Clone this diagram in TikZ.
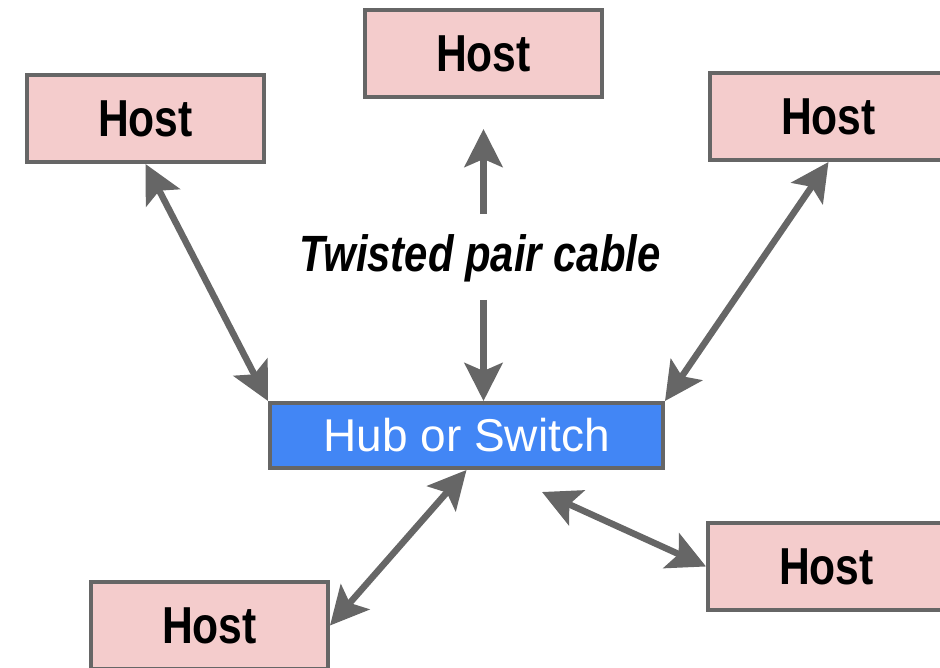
\documentclass[tikz,border=0pt]{standalone}
\usepackage{fontspec}
\setmainfont{Liberation Sans}
\newfontfamily\narrowfont[FakeStretch=0.82]{Liberation Sans}
\usetikzlibrary{arrows.meta}
\definecolor{hostpink}{HTML}{F4CCCC}
\definecolor{hubblue}{HTML}{4286F5}
\definecolor{wiregray}{HTML}{666666}

\begin{document}
\begin{tikzpicture}[
  x=1pt, y=-1pt,
  hostbox/.style={rectangle, minimum width=237pt, minimum height=87pt, draw=wiregray, fill=hostpink, line width=4pt, font=\narrowfont\bfseries\fontsize{52}{60}\selectfont},
  hubbox/.style={rectangle, minimum width=393pt, minimum height=65pt, draw=wiregray, fill=hubblue, line width=4pt, text=white, font=\fontsize{46}{54}\selectfont},
  link/.style={line width=6.5pt, draw=wiregray, >={Stealth[length=38pt, width=38pt, inset=8pt]}}
]
\useasboundingbox (0,0) rectangle (940,668);

\node (hub) [hubbox] at (466.5, 435.5) {Hub or Switch};
\node (hostA) [hostbox] at (145.5, 118.5) {Host};
\node (hostB) [hostbox] at (483.5, 53.5) {Host};
\node (hostC) [hostbox] at (828.5, 116.5) {Host};
\node (hostD) [hostbox] at (826.5, 566.5) {Host};
\node (hostE) [hostbox] at (209.5, 625.5) {Host};
\node (cable) [inner sep=0pt, font=\narrowfont\bfseries\itshape\fontsize{51}{60}\selectfont] at (480, 258) {Twisted pair cable};
\coordinate (hubport) at (542, 492);

\draw [link, <->] (hostA.south) -- (hub.north west);
\draw [link, ->, shorten <=20pt, shorten >=30pt] (hostB.south |- cable.north) -- (hostB.south);
\draw [link, ->, shorten <=18pt] (hostB.south |- cable.south) -- (hostB.south |- hub.north);
\draw [link, <->] (hostC.south) -- (hub.north east);
\draw [link, <->] (hub.south) -- (hostE.east);
\draw [link, <->] (hubport) -- (hostD.west);

\end{tikzpicture}
\end{document}
